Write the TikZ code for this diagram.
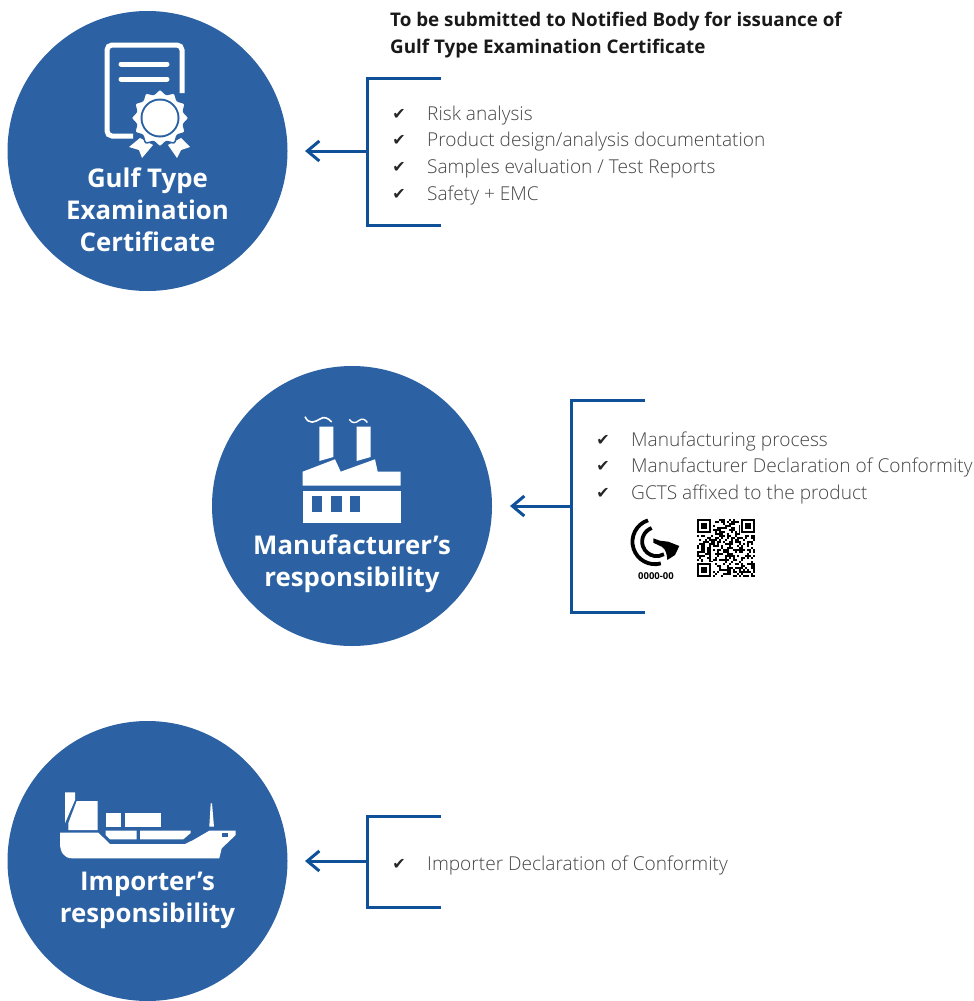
\documentclass[tikz,border=0pt]{standalone}
\usepackage{fontspec}
\setmainfont{Open Sans}[UprightFont=* Light,BoldFont=* Bold]
\newfontfamily\checkfont{DejaVu Sans}
\newfontfamily\boldfont{Open Sans}[UprightFont=* Bold]
\usetikzlibrary{arrows.meta}
\definecolor{discblue}{HTML}{2C62A3}
\definecolor{lineblue}{HTML}{0F5199}
\definecolor{itemgrey}{HTML}{454545}
\tikzset{
  disc/.style = {circle, fill = discblue, minimum size = 280pt, inner sep = 0pt},
  disclabel/.style = {text = white, align = center, inner sep = 0pt,
    font = \boldfont\fontsize{25.8}{32}\selectfont},
  bracket/.style = {draw = lineblue, line width = 3pt, line join = miter},
  pointer/.style = {bracket, -{Straight Barb[length = 12pt, width = 20pt, line width = 3pt]}},
  item/.style = {anchor = base west, inner sep = 0pt, text = itemgrey,
    font = \fontsize{19.1}{24}\selectfont},
  tick/.style = {anchor = base, inner sep = 0pt, text = black!85,
    font = \checkfont\fontsize{16}{17}\selectfont},
  heading/.style = {anchor = base west, inner sep = 0pt, text = black!90,
    font = \boldfont\fontsize{18.8}{26}\selectfont},
  whiteshape/.style = {fill = white, draw = none},
  blueshape/.style = {fill = discblue, draw = none}
}

\begin{document}
\begin{tikzpicture}[x = 1pt, y = -1pt]
  \useasboundingbox (0,0) rectangle (974,1001);

  % the three discs
  \node[disc] (certdisc) at (147.5,151) {};
  \node[disc] (factdisc) at (352,506) {};
  \node[disc] (shipdisc) at (147.5,861) {};

  \node[disclabel] (certlabel) at (147.5,210) {Gulf Type\\Examination\\Certificate};
  \node[disclabel] (factlabel) at (352,564) {Manufacturer’s\\responsibility};
  \node[disclabel] (shiplabel) at (147.5,900) {Importer’s\\responsibility};

  % certificate icon
  \draw[white, line width = 5pt, rounded corners = 5pt] (182,93) -- (182,45) -- (107,45) -- (107,136) -- (133,136);
  \draw[white, line width = 5pt, line cap = round] (121,64) -- (167,64);
  \draw[white, line width = 5pt, line cap = round] (121,79) -- (167,79);
  \fill[white] (140,138) -- (129,147) -- (139,150) -- (142,158) -- (153,145) -- cycle;
  \fill[white] (168,145) -- (181,138) -- (190,147) -- (181,150) -- (177,158) -- cycle;
  \filldraw[fill = white, draw = discblue, line width = 1.5pt] plot[smooth cycle, samples = 24, domain = 0:345, variable = \a]
    ({160 + (26.5 + 2*cos(12*\a))*cos(\a)}, {118 + (26.5 + 2*cos(12*\a))*sin(\a)});
  \fill[discblue] (160,118) circle (19.5pt);
  \fill[white] (160,118) circle (17.5pt);

  % factory icon
  \fill[whiteshape] (319.3,426.7) -- (333.3,426.7) -- (333.3,457) -- (319.3,461) -- cycle;
  \fill[whiteshape] (356.7,426.7) -- (370.7,426.7) -- (370.7,457) -- (356.7,461) -- cycle;
  \fill[whiteshape] (302.7,471.7) -- (335,459.3) -- (340.7,471.7) -- (375,459.3) -- (377.7,471.7)
    -- (400.7,471.7) -- (400.7,485.7) -- (302.7,485.7) -- cycle;
  \fill[whiteshape] (302.7,491) rectangle (400.7,523.3);
  \foreach \wx in {311.7,331,349.7}
    \fill[blueshape] (\wx,496) rectangle (\wx+10.6,512.3);
  \draw[white, line width = 1.6pt] (305,416.7) .. controls (309,425) and (315,422) .. (320,419)
    .. controls (324,416) and (328,418) .. (331.7,422);
  \draw[white, line width = 1.4pt] (349.3,419.3) .. controls (352,424) and (356,423) .. (359,420.5)
    .. controls (362,418) and (365,419) .. (367.3,422.5);

  % ship icon
  \fill[whiteshape] (60,832.7) -- (98.3,832.7) -- (110,844) -- (185,844) -- (193.3,840) -- (209.3,830.7)
    -- (235.7,830.7) -- (235.7,835) -- (221.7,848.3) -- (219.3,858.3) -- (72,858.3)
    .. controls (64,858.3) and (60,852) .. (60,843) -- cycle;
  \fill[blueshape] (221.7,833.3) rectangle (228.3,837.3);
  \fill[whiteshape] (76.7,801) -- (97.7,801) -- (97.7,830) -- (68.3,830) -- (68.3,823.3) -- cycle;
  \fill[whiteshape] (65,792.3) -- (75,792.3) -- (75,800) -- (65,823.3) -- cycle;
  \fill[whiteshape] (105.7,813.3) rectangle (121.3,826.7);
  \fill[whiteshape] (125,813.3) rectangle (161,826.7);
  \fill[whiteshape] (105.7,830.7) -- (136.7,830.7) -- (136.7,839.3) -- (110,839.3) -- (105.7,835) -- cycle;
  \fill[whiteshape] (140,830.7) -- (190.7,830.7) -- (190.7,833) -- (183.3,839.3) -- (140,839.3) -- cycle;
  \fill[whiteshape] (210.7,803.3) -- (212,803.3) -- (214,826.7) -- (209.3,826.7) -- cycle;

  % brackets and arrows
  \coordinate (certmid) at (367,151);
  \coordinate (certtip) at (305,151);
  \coordinate (factmid) at (571,506);
  \coordinate (facttip) at (510,506);
  \coordinate (shipmid) at (367,861);
  \coordinate (shiptip) at (305,861);

  \draw[bracket] (441,78) -- (367,78) -- (367,225) -- (441,225);
  \draw[bracket] (645,400) -- (571,400) -- (571,612) -- (645,612);
  \draw[bracket] (441,816) -- (367,816) -- (367,907) -- (441,907);

  \draw[pointer] (certmid) -- (certtip);
  \draw[pointer] (factmid) -- (facttip);
  \draw[pointer] (shipmid) -- (shiptip);

  % heading
  \node[heading] (headingone) at (390,27) {To be submitted to Notified Body for issuance of};
  \node[heading] (headingtwo) at (390,53) {Gulf Type Examination Certificate};

  % first list
  \foreach \name/\ypos/\txt in {risk/120/{Risk analysis},
      design/146/{Product design/analysis documentation},
      samples/173/{Samples evaluation / Test Reports},
      safety/200/{Safety + EMC}} {
    \node[tick] (\name tick) at (399,\ypos-1) {✔};
    \node[item] (\name) at (427,\ypos) {\txt};
  }

  % second list
  \foreach \name/\ypos/\txt in {process/446/{Manufacturing process},
      declaration/472/{Manufacturer Declaration of Conformity},
      affixed/499/{GCTS affixed to the product}} {
    \node[tick] (\name tick) at (603,\ypos-1) {✔};
    \node[item] (\name) at (631,\ypos) {\txt};
  }

  % third list
  \node[tick] (importtick) at (399,869) {✔};
  \node[item] (import) at (427,870) {Importer Declaration of Conformity};

  % mark
  \draw[black, line width = 3.8pt] (648,520.3) arc[start angle = 108, end angle = 285, radius = 22.5pt];
  \draw[black, line width = 3.8pt] (651.7,528) arc[start angle = 110, end angle = 300, radius = 14.5pt];
  \fill[black] (653.3,538.3) -- (660,540.7) -- (668.3,541.7) -- (679.3,546) -- (675,555) -- (667.3,560)
    .. controls (667,555) and (666,549) .. (661.7,546.7) -- (653.3,542.7) -- cycle;
  \node[inner sep = 0pt, font = \boldfont\fontsize{9.5}{10}\selectfont] (marknum) at (656,576) {0000-00};

  % QR code
  \pgfmathsetseed{4711}
  \foreach \col in {0,...,28} {
    \foreach \row in {0,...,28} {
      \pgfmathsetmacro{\bit}{rnd}
      \ifdim\bit pt<0.5pt
        \fill[black] (697+2*\col,519+2*\row) rectangle ++(2.05,2.05);
      \fi
    }
  }
  \foreach \qx/\qy in {697/519,741/519,697/563} {
    \fill[white] (\qx-1,\qy-1) rectangle ++(17,17);
    \fill[black] (\qx,\qy) rectangle ++(14,14);
    \fill[white] (\qx+2,\qy+2) rectangle ++(10,10);
    \fill[black] (\qx+4,\qy+4) rectangle ++(6,6);
  }
\end{tikzpicture}
\end{document}
